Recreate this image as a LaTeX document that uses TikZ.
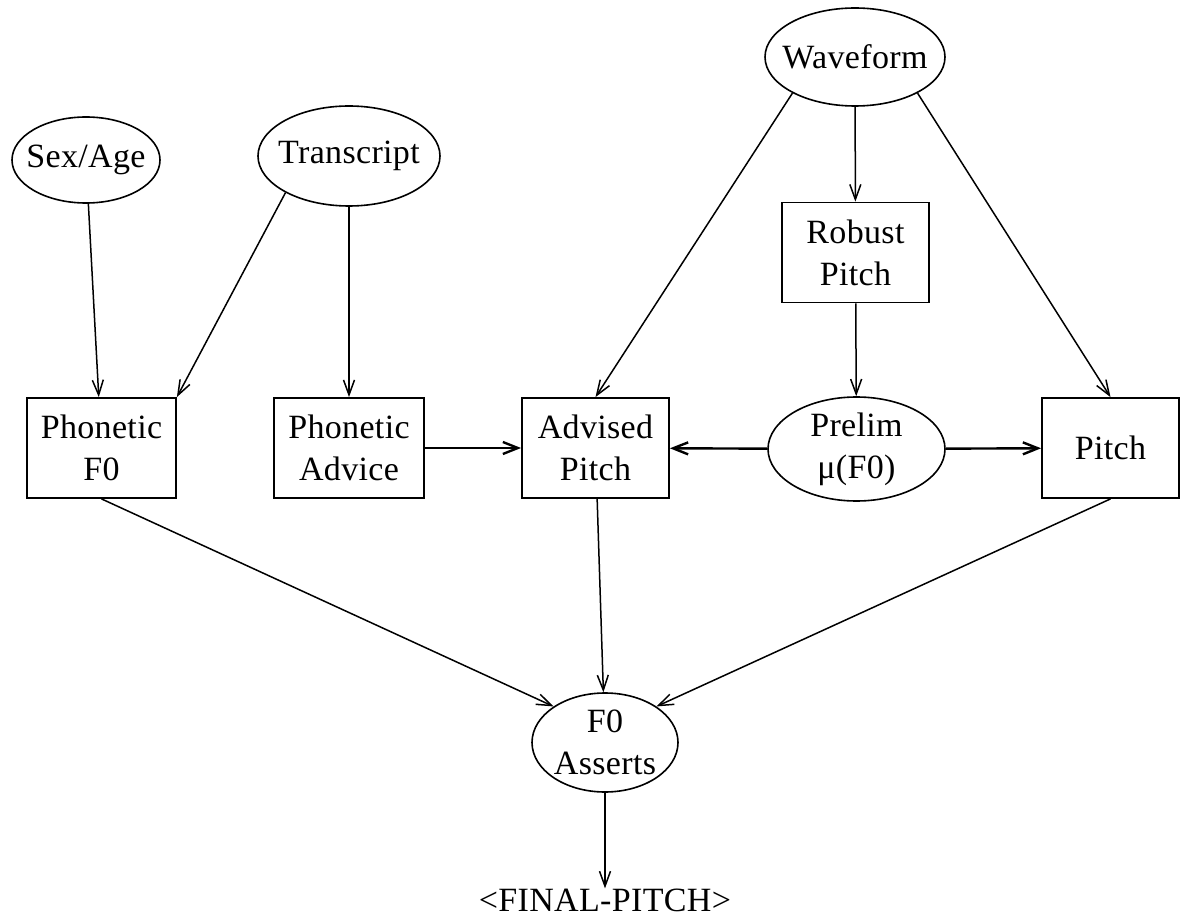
\documentclass[tikz,border=0pt]{standalone}
\usepackage{fontspec}
\setmainfont{Liberation Serif}[LetterSpace=1]
\usetikzlibrary{shapes.geometric,arrows.meta}
\begin{document}
\begin{tikzpicture}[x=1pt,y=-1pt,
  every node/.style={font=\fontsize{34}{42}\selectfont},
  box/.style={draw, line width=1.8pt, rectangle, inner sep=0pt, align=center,
              minimum width=#1, minimum height=100pt},
  oval/.style={draw, line width=1.6pt, ellipse, inner sep=0pt},
  lbl/.style={align=center, inner sep=0pt, font=\fontsize{34}{42}\selectfont},
  link/.style={line width=1.5pt, -{Straight Barb[length=15pt,width=11pt]}},
  heavy/.style={line width=2.4pt, -{Straight Barb[length=15pt,width=12pt]}}
]
\useasboundingbox (0,0) rectangle (1181,917);

% sources
\node[oval, minimum width=148pt, minimum height=86pt,
      label={[lbl]center:Sex/Age}] (sa) at (86,160) {};
\node[oval, minimum width=182pt, minimum height=100pt,
      label={[lbl]center:Transcript}] (tr) at (349,156) {};
\node[oval, minimum width=180pt, minimum height=98pt,
      label={[lbl]center:Waveform}] (wf) at (855,57) {};

% processing stages
\node[box=147pt] (rp) at (855.5,252.5) {Robust\\Pitch};
\node[box=149pt] (pf) at (101.5,448) {Phonetic\\F0};
\node[box=150pt] (pa) at (349,448) {Phonetic\\Advice};
\node[box=147pt] (ap) at (595.5,448) {Advised\\Pitch};
\node[oval, minimum width=177pt, minimum height=104pt,
      label={[lbl]center:{Prelim\\μ(F0)}}] (pr) at (856.5,449) {};
\node[box=137pt] (pt) at (1110.5,448) {Pitch};

% result
\node[oval, minimum width=146pt, minimum height=99pt,
      label={[lbl]center:{F0\\Asserts}}] (fa) at (605,742.5) {};
\node[inner sep=0pt] (fin) at (605,900) {<FINAL-PITCH>};

% connectors
\draw[link] (sa) -- (pf);
\draw[link] (tr.210) -- (pf.north east);
\draw[link] (tr) -- (pa);
\draw[link] (wf.210) -- (ap.north);
\draw[link] (wf) -- (rp);
\draw[link] (wf.-30) -- (pt.north);
\draw[link] (rp) -- (pr);
\draw[heavy] (pa) -- (ap);
\draw[heavy] (pr) -- (ap);
\draw[heavy] (pr) -- (pt);
\draw[link] (pf.south) -- (fa.145);
\draw[link] (ap) -- (fa);
\draw[link] (pt.south) -- (fa.35);
\draw[link] (fa) -- (fin);
\end{tikzpicture}
\end{document}
